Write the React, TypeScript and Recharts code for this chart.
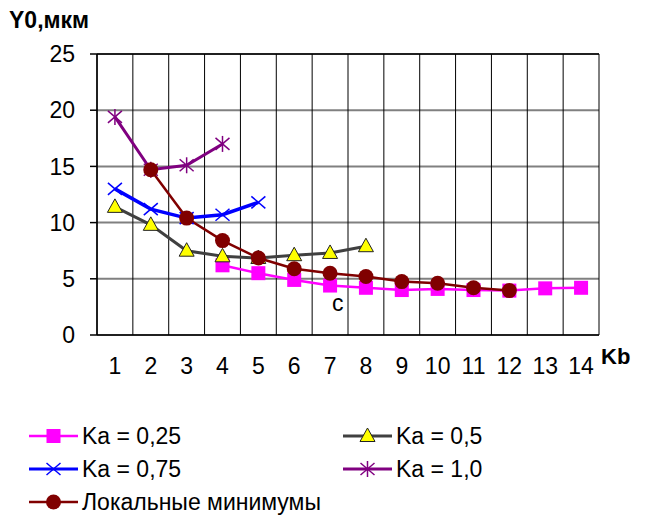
import React from "react";
import {CartesianGrid, Line, LineChart, ReferenceDot, ReferenceLine, XAxis, YAxis} from "recharts";

// Kb categories on the horizontal axis
const kb = [1, 2, 3, 4, 5, 6, 7, 8, 9, 10, 11, 12, 13, 14];

// Y0 (мкм) for each Ka, one entry per Kb
const ka025 = [null, null, null, 6.2, 5.5, 4.9, 4.4, 4.2, 4.0, 4.1, 4.0, 3.95, 4.15, 4.2];
const ka050 = [11.4, 9.8, 7.5, 7.0, 6.85, 7.1, 7.3, 7.9, null, null, null, null, null, null];
const ka075 = [13.0, 11.2, 10.4, 10.7, 11.8, null, null, null, null, null, null, null, null, null];
const ka100 = [19.4, 14.7, 15.1, 17.0, null, null, null, null, null, null, null, null, null, null];
const minima = [null, 14.7, 10.4, 8.4, 6.85, 5.9, 5.5, 5.2, 4.75, 4.6, 4.2, 3.95, null, null];

const yTicks = [0, 5, 10, 15, 20, 25];

const data = kb.map((k, i) => ({
    kb: k,
    ka025: ka025[i],
    ka050: ka050[i],
    ka075: ka075[i],
    ka100: ka100[i],
    minima: minima[i],
}));

// grid lines sit between the categories
const cellEdges = [...kb.map(k => k - 0.5), kb[kb.length - 1] + 0.5];

const FONT = "'Liberation Sans', Arial, sans-serif";

type DotProps = { cx?: number | null; cy?: number | null; index?: number; value?: any };

const empty = (p: DotProps) =>
    p.cx == null || p.cy == null || p.value == null || Number.isNaN(p.cy);

const squareDot = (p: DotProps) => empty(p) ? <g key={p.index}/> :
    <rect key={p.index} x={p.cx! - 7} y={p.cy! - 7} width={14} height={14} fill="#FF00FF"/>;

const triangleDot = (p: DotProps) => empty(p) ? <g key={p.index}/> :
    <polygon key={p.index}
             points={`${p.cx},${p.cy! - 8} ${p.cx! + 7.5},${p.cy! + 5.5} ${p.cx! - 7.5},${p.cy! + 5.5}`}
             fill="#FFFF00" stroke="#222" strokeWidth={1}/>;

const crossDot = (p: DotProps) => empty(p) ? <g key={p.index}/> :
    <g key={p.index} stroke="#0000FF" strokeWidth={1.5}>
        <line x1={p.cx! - 7} y1={p.cy! - 6} x2={p.cx! + 7} y2={p.cy! + 6}/>
        <line x1={p.cx! - 7} y1={p.cy! + 6} x2={p.cx! + 7} y2={p.cy! - 6}/>
    </g>;

const starDot = (p: DotProps) => empty(p) ? <g key={p.index}/> :
    <g key={p.index} stroke="#800080" strokeWidth={1.5}>
        <line x1={p.cx! - 7} y1={p.cy! - 6} x2={p.cx! + 7} y2={p.cy! + 6}/>
        <line x1={p.cx! - 7} y1={p.cy! + 6} x2={p.cx! + 7} y2={p.cy! - 6}/>
        <line x1={p.cx} y1={p.cy! - 8} x2={p.cx} y2={p.cy! + 8}/>
    </g>;

const circleDot = (p: DotProps) => empty(p) ? <g key={p.index}/> :
    <circle key={p.index} cx={p.cx!} cy={p.cy!} r={7.5} fill="#800000"/>;

const noLabel = () => <g/>;

const legendItems = [
    {name: "Ka = 0,25", color: "#FF00FF", width: 2.5, dot: squareDot, col: 0, row: 0},
    {name: "Ka = 0,5", color: "#404040", width: 3, dot: triangleDot, col: 1, row: 0},
    {name: "Ka = 0,75", color: "#0000FF", width: 3, dot: crossDot, col: 0, row: 1},
    {name: "Ka = 1,0", color: "#800080", width: 3, dot: starDot, col: 1, row: 1},
    {name: "Локальные минимумы", color: "#800000", width: 2.5, dot: circleDot, col: 0, row: 2},
];

const Legend = () => (
    <svg width={647} height={529} style={{position: 'absolute', left: 0, top: 0, pointerEvents: 'none'}}>
        <text x={9} y={28} fontFamily={FONT} fontWeight="bold" fontSize={23}>Y0,мкм</text>
        <text x={601} y={364} fontFamily={FONT} fontWeight="bold" fontSize={22}>Kb</text>
        {legendItems.map((item, i) => {
            const x0 = item.col === 0 ? 29 : 343;
            const y = 436 + item.row * 33;
            return (
                <g key={i}>
                    <line x1={x0} x2={x0 + 49} y1={y} y2={y} stroke={item.color} strokeWidth={item.width}/>
                    {item.dot({cx: x0 + 24.5, cy: y, index: i, value: 1})}
                    <text x={x0 + 53} y={y + 8} fontFamily={FONT} fontSize={23}>{item.name}</text>
                </g>
            );
        })}
    </svg>
);

const App = () => {
    const tickStyle = {fill: '#000', fontSize: 23, fontFamily: FONT};
    return (
        <div style={{position: 'relative', width: 647, height: 529, margin: -8, background: '#fff'}}>
            <LineChart width={647} height={529} data={data}
                       margin={{top: 54, right: 48, bottom: 164, left: 0}}>
                <CartesianGrid yAxisId="y" xAxisId="cells" vertical={false}
                               stroke="#808080" strokeWidth={2}/>
                <CartesianGrid yAxisId="y" xAxisId="cells" horizontal={false}
                               stroke="#000" strokeWidth={1}/>
                <XAxis xAxisId="cells" dataKey="kb" type="number" domain={[0.5, 14.5]}
                       ticks={cellEdges} interval={0} tick={noLabel} tickSize={7}
                       tickLine={{stroke: '#000', strokeWidth: 1}}
                       stroke="#000" axisLine={false} height={0}/>
                <XAxis xAxisId="kb" dataKey="kb" type="number" domain={[0.5, 14.5]}
                       ticks={kb} interval={0} tickLine={false} tickSize={7} tickMargin={16}
                       stroke="#000" strokeWidth={1.5} height={30} tick={tickStyle}/>
                <YAxis yAxisId="y" type="number" domain={[0, 25]} ticks={yTicks} interval={0}
                       width={97} tickSize={7} tickMargin={15}
                       stroke="#000" strokeWidth={1.5} tick={tickStyle}/>
                <ReferenceLine xAxisId="kb" yAxisId="y" y={25} stroke="#000" strokeWidth={1.5}/>
                <Line xAxisId="kb" yAxisId="y" dataKey="ka025" stroke="#FF00FF" strokeWidth={2.5}
                      dot={squareDot} activeDot={false} isAnimationActive={false}/>
                <Line xAxisId="kb" yAxisId="y" dataKey="ka050" stroke="#404040" strokeWidth={3}
                      dot={triangleDot} activeDot={false} isAnimationActive={false}/>
                <Line xAxisId="kb" yAxisId="y" dataKey="ka075" stroke="#0000FF" strokeWidth={3.5}
                      dot={crossDot} activeDot={false} isAnimationActive={false}/>
                <Line xAxisId="kb" yAxisId="y" dataKey="ka100" stroke="#800080" strokeWidth={3}
                      dot={starDot} activeDot={false} isAnimationActive={false}/>
                <Line xAxisId="kb" yAxisId="y" dataKey="minima" stroke="#800000" strokeWidth={2.5}
                      dot={circleDot} activeDot={false} isAnimationActive={false}/>
                <ReferenceDot xAxisId="kb" yAxisId="y" x={7} y={2.85} r={0} stroke="none"
                              label={{value: 'c', position: 'right', offset: 2, fill: '#000',
                                  fontSize: 23, fontFamily: FONT}}/>
            </LineChart>
            <Legend/>
        </div>
    );
};

export default App;
